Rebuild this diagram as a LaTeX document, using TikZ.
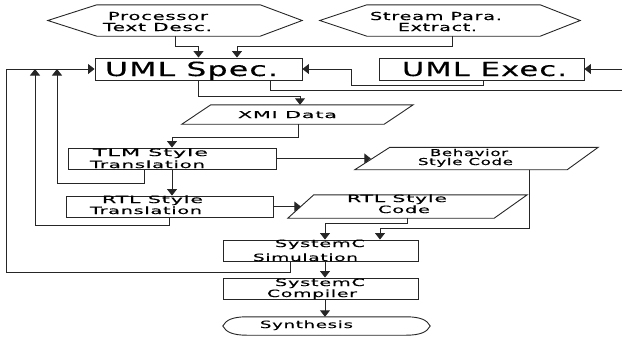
\documentclass[tikz,border=0pt]{standalone}
\usepackage{fontspec}
\setmainfont{DejaVu Sans}[LetterSpace=4,FakeBold=0.3]
\usetikzlibrary{arrows.meta}
\tikzset{
  ln/.style={line width=0.9pt, draw=black!85},
  arr/.style={ln, -{Triangle[length=6.5pt,width=10pt]}},
  box/.style={draw=none, inner sep=0pt, rectangle},
  rbox/.style={ln, inner sep=0pt, rectangle},
  txt/.style={inner sep=0pt, anchor=base, font=\fontsize{10}{12}\selectfont},
  txth/.style={inner sep=0pt, anchor=base, font=\fontsize{11}{13}\selectfont},
  txtp/.style={inner sep=0pt, anchor=base, font=\fontsize{9.5}{11}\selectfont},
  big/.style={inner sep=0pt, anchor=base, font=\fontsize{19.5}{22}\selectfont},
}
\newcommand\tw[2]{\resizebox{#1pt}{\height}{#2}}
\newcommand\paral[3]{\draw[ln] (#1.south west) -- ([xshift=#2]#1.north west) -- (#1.north east) -- ([xshift=-#3]#1.south east) -- cycle;}
\newcommand\hexa[3]{\draw[ln] (#1.west) -- ([xshift=#2]#1.north west) -- ([xshift=-#3]#1.north east) -- (#1.east) -- ([xshift=-#3]#1.south east) -- ([xshift=#2]#1.south west) -- cycle;}
\begin{document}
\begin{tikzpicture}[x=1pt,y=-1pt]
\useasboundingbox (0,0) rectangle (622,338);
% shapes
\node[box, minimum width=254pt, minimum height=31pt] (proc) at (175,20.5) {};
\hexa{proc}{49}{42}
\node[box, minimum width=260pt, minimum height=31pt] (strm) at (450,20.5) {};
\hexa{strm}{47}{40}
\node[rbox, minimum width=207pt, minimum height=22pt] (spec) at (198.5,69) {};
\node[rbox, minimum width=205pt, minimum height=22pt] (exec) at (481.5,69) {};
\node[box, minimum width=231pt, minimum height=19pt] (xmi) at (297.5,114.5) {};
\paral{xmi}{29}{29}
\node[rbox, minimum width=208pt, minimum height=21pt] (tlm) at (172,158.5) {};
\node[box, minimum width=243pt, minimum height=22pt] (beh) at (476.5,158.5) {};
\paral{beh}{35}{31}
\node[rbox, minimum width=207pt, minimum height=21pt] (rtl) at (169.5,206.5) {};
\node[box, minimum width=239pt, minimum height=23pt] (code) at (407.5,206.5) {};
\paral{code}{26}{33}
\node[rbox, minimum width=195pt, minimum height=21pt] (sim) at (320.5,250.5) {};
\node[rbox, minimum width=195pt, minimum height=21pt] (comp) at (320.5,288.5) {};
\node[box, minimum width=207pt, minimum height=18pt] (syn) at (326.5,326) {};
\draw[ln] (syn.west) .. controls +(3,-6) and +(-14,0) .. ([xshift=24]syn.north west)
  -- ([xshift=-24]syn.north east) .. controls +(14,0) and +(-3,-6) .. (syn.east)
  .. controls +(-3,6) and +(14,0) .. ([xshift=-24]syn.south east)
  -- ([xshift=24]syn.south west) .. controls +(-14,0) and +(3,6) .. (syn.west) -- cycle;
% texts
\node[txth] (t1) at (158,20) {\tw{100}{Processor}};
\node[txth] (t2) at (157.5,31) {\tw{109}{Text Desc.}};
\node[txth] (t3) at (436,20) {\tw{132}{Stream Para.}};
\node[txth] (t4) at (437.5,31) {\tw{79}{Extract.}};
\node[big] (t5) at (191.5,76) {\tw{173}{UML Spec.}};
\node[big] (t6) at (484.5,76) {\tw{165}{UML Exec.}};
\node[txtp] (t7) at (287.5,118) {\tw{99}{XMI Data}};
\node[txt] (t8) at (150.5,156) {\tw{115}{TLM Style}};
\node[txt] (t9) at (147.5,168) {\tw{115}{Translation}};
\node[txt] (t10) at (152.5,203) {\tw{101}{RTL Style}};
\node[txt] (t11) at (146,214) {\tw{112}{Translation}};
\node[txtp] (t12) at (469,156) {\tw{78}{Behavior}};
\node[txtp] (t13) at (465.5,165) {\tw{95}{Style Code}};
\node[txt] (t14) at (397,202) {\tw{100}{RTL Style}};
\node[txt] (t15) at (404,213) {\tw{52}{Code}};
\node[txt] (t16) at (320,247) {\tw{90}{SystemC}};
\node[txt] (t17) at (305.5,261) {\tw{105}{Simulation}};
\node[txt] (t18) at (320,286) {\tw{90}{SystemC}};
\node[txt] (t19) at (312,297) {\tw{90}{Compiler}};
\node[txt] (t20) at (306.5,328) {\tw{93}{Synthesis}};
% connectors
\coordinate (rin) at (622,69);
\coordinate (rout) at (622,90);
\coordinate (fb) at (6,69);
\draw[arr] (proc.south) -- ++(0,10) -| (spec.north);
\draw[arr] ([xshift=2]strm.south) -- ++(0,10) -| ([xshift=38.5]spec.north);
\draw[arr] ([xshift=1.5]exec.south) -- ++(0,5) -| ([xshift=49]spec.east) -- (spec.east);
\draw[arr] (rin) -- (exec.east);
\draw[ln] ([xshift=71.5]spec.south) |- (rout);
\draw[arr] (spec.south) -- ++(0,16) -| ([xshift=2.5]xmi.north);
\draw[arr] ([xshift=0.5]xmi.south) -- ++(0,13) -| (tlm.north);
\draw[arr] (tlm.east) -- ([xshift=16]beh.west);
\draw[arr] (tlm.south) -- (tlm.south |- rtl.north);
\draw[arr] ([xshift=-28]tlm.south) -- ++(0,14) -| ([xshift=51]fb);
\draw[arr] (rtl.south) -- ++(0,8) -| ([xshift=29]fb);
\draw[arr] (rtl.east) -- ([xshift=13]code.west);
\draw[arr] (code.south) -- ++(0,5) -| ([xshift=4.5]sim.north);
\draw[arr] ([xshift=52.5]beh.south) -- ++(0,58.5) -| ([xshift=59.5]sim.north);
\draw[arr] ([xshift=4.5]sim.south) -- ([xshift=4.5]comp.north);
\draw[arr] ([xshift=4.5]comp.south) -- ([xshift=-1.5]syn.north);
\draw[arr] ([xshift=-30.5]sim.south) -- ++(0,11) -| (fb) -- (spec.west);
\end{tikzpicture}
\end{document}
